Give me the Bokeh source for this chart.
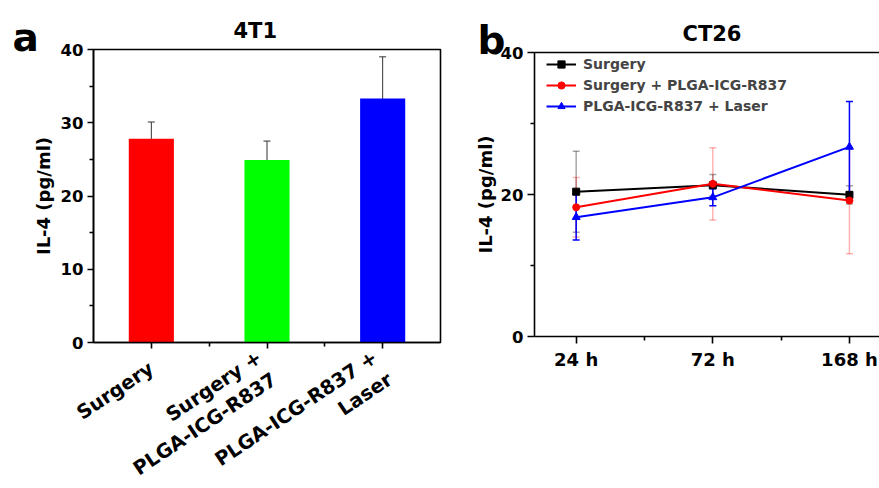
import math
import numpy as np
from bokeh.plotting import figure
from bokeh.layouts import row, column
from bokeh.models import (ColumnDataSource, Range1d, FixedTicker, LinearAxis,
                          Whisker, Label, TeeHead)
from bokeh.embed import file_html
from bokeh.resources import INLINE

FONT = "DejaVu Sans"

# ---------------- data: panel a (4T1) ----------------
a_title = "4T1"
a_groups = ["Surgery", "Surgery +\nPLGA-ICG-R837", "PLGA-ICG-R837 +\nLaser"]
a_values = [27.8, 24.9, 33.3]
a_errors = [2.3, 2.6, 5.7]
a_colors = ["#FF0000", "#00FF00", "#0000FF"]

# ---------------- data: panel b (CT26) ----------------
b_title = "CT26"
b_times = ["24 h", "72 h", "168 h"]
b_series = ["Surgery", "Surgery + PLGA-ICG-R837", "PLGA-ICG-R837 + Laser"]
b_surgery = [20.4, 21.3, 19.95]
b_surgery_err = [5.7, 1.5, 1.3]
b_surgery_plga = [18.2, 21.5, 19.15]
b_surgery_plga_err = [4.2, 5.1, 7.5]
b_plga_laser = [16.8, 19.6, 26.7]
b_plga_laser_err = [3.2, 1.2, 6.4]
b_colors = ["#000000", "#FF0000", "#0000FF"]
b_markers = ["square", "circle", "triangle"]
b_err_alpha = [0.35, 0.3, 1.0]

y_label = "IL-4 (pg/ml)"
a_yticks = [0, 10, 20, 30, 40]
a_yminor = [5, 15, 25, 35]
b_yticks = [0, 20, 40]
b_yminor = [10, 30]
panel_letters = ["a", "b"]


def style_axis(ax, tick_size="16.5px"):
    ax.axis_line_width = 1.6
    ax.axis_line_color = "black"
    ax.major_tick_line_width = 1.6
    ax.minor_tick_line_width = 1.6
    ax.major_tick_in = 0
    ax.minor_tick_in = 0
    ax.major_tick_out = 6
    ax.minor_tick_out = 4
    ax.major_label_text_font = FONT
    ax.major_label_text_font_style = "bold"
    ax.major_label_text_font_size = tick_size
    ax.major_label_text_color = "black"
    ax.axis_label_text_font = FONT
    ax.axis_label_text_font_style = "bold"
    ax.axis_label_text_font_size = "18px"
    ax.axis_label_text_color = "black"


def style_title(t, offset):
    t.text_font = FONT
    t.text_font_style = "bold"
    t.text_font_size = "21px"
    t.text_color = "black"
    t.align = "left"
    t.offset = offset
    t.standoff = 13


# ---------------- panel a ----------------
xa = list(range(1, len(a_groups) + 1))
src_a = ColumnDataSource(dict(
    x=xa, top=a_values, color=a_colors,
    upper=[v + e for v, e in zip(a_values, a_errors)],
    lower=[v - e for v, e in zip(a_values, a_errors)],
))

pa = figure(width=442, height=524, x_range=Range1d(0.5, 3.5), y_range=Range1d(0, 40),
            output_backend="svg", toolbar_location=None,
            min_border_left=93, min_border_right=2, min_border_top=49, min_border_bottom=182)
pa.vbar(x="x", top="top", width=0.39, fill_color="color", line_color=None, source=src_a)
pa.add_layout(Whisker(base="x", upper="upper", lower="lower", source=src_a,
                      line_color="#333333", line_width=1,
                      upper_head=TeeHead(size=7, line_color="#333333", line_width=1),
                      lower_head=TeeHead(size=7, line_color="#333333", line_width=1)))
pa.grid.visible = False
pa.outline_line_color = "black"
pa.outline_line_width = 1.6
pa.title.text = a_title
style_title(pa.title, 140)

overrides_a = {}
for x, g in zip(xa, a_groups):
    overrides_a[x] = g
pa.xaxis.ticker = FixedTicker(ticks=xa, minor_ticks=[1.5, 2.5])
pa.xaxis.major_label_overrides = overrides_a
pa.xaxis.major_label_orientation = 0.59
pa.yaxis.ticker = FixedTicker(ticks=a_yticks, minor_ticks=a_yminor)
pa.yaxis.axis_label = y_label
pa.yaxis.axis_label_standoff = 4
style_axis(pa.xaxis[0], "19.5px")
style_axis(pa.yaxis[0])
pa.xaxis.major_label_text_line_height = 1.15
pa.xaxis.major_label_standoff = 18
pa.yaxis.major_label_standoff = 4
pa.add_layout(Label(x=12, y=37, x_units="canvas", y_units="canvas", text=panel_letters[0],
                    text_font=FONT, text_font_style="bold", text_font_size="39px",
                    text_baseline="alphabetic", text_color="black"), "left")

# ---------------- panel b ----------------
xb = list(range(len(b_times)))
pb = figure(width=437, height=488, x_range=Range1d(-0.305, 2.22), y_range=Range1d(0, 40),
            output_backend="svg", toolbar_location=None,
            min_border_left=92, min_border_right=0, min_border_top=52, min_border_bottom=152)
pb.grid.visible = False
pb.outline_line_color = None
pb.title.text = b_title
style_title(pb.title, 148)

series_vals = [b_surgery, b_surgery_plga, b_plga_laser]
series_errs = [b_surgery_err, b_surgery_plga_err, b_plga_laser_err]
for vals, errs, col, alpha in zip(series_vals, series_errs, b_colors, b_err_alpha):
    s = ColumnDataSource(dict(x=xb, upper=[v + e for v, e in zip(vals, errs)],
                              lower=[v - e for v, e in zip(vals, errs)]))
    pb.add_layout(Whisker(base="x", upper="upper", lower="lower", source=s,
                          line_color=col, line_alpha=alpha, line_width=1.5,
                          upper_head=TeeHead(size=7, line_color=col, line_alpha=alpha, line_width=1.5),
                          lower_head=TeeHead(size=7, line_color=col, line_alpha=alpha, line_width=1.5)))
for name, vals, col, mk in zip(b_series, series_vals, b_colors, b_markers):
    s = ColumnDataSource(dict(x=xb, y=vals))
    pb.line("x", "y", source=s, line_color=col, line_width=2, legend_label=name)
    pb.scatter("x", "y", source=s, marker=mk, size=8 if mk == "triangle" else 7,
               fill_color=col, line_color=col, legend_label=name)

pb.xaxis.ticker = FixedTicker(ticks=xb, minor_ticks=[0.5, 1.5])
pb.xaxis.major_label_overrides = {x: t for x, t in zip(xb, b_times)}
pb.yaxis.ticker = FixedTicker(ticks=b_yticks, minor_ticks=b_yminor)
pb.yaxis.axis_label = y_label
pb.yaxis.axis_label_standoff = 2
style_axis(pb.xaxis[0], "18px")
style_axis(pb.yaxis[0])
pb.xaxis.major_tick_out = 7
pb.yaxis.major_tick_out = 7
pb.xaxis.major_label_standoff = 5
pb.yaxis.major_label_standoff = 4
top_axis = LinearAxis(ticker=FixedTicker(ticks=[]), major_label_text_font_size="0px",
                      axis_line_width=1.6, major_tick_out=0, minor_tick_out=0,
                      major_label_standoff=0, axis_label_standoff=0)
pb.add_layout(top_axis, "above")

leg = pb.legend[0]
leg.location = (12, 221)
leg.border_line_color = None
leg.background_fill_alpha = 0
leg.label_text_font = FONT
leg.label_text_font_style = "bold"
leg.label_text_font_size = "14px"
leg.glyph_width = 30
leg.glyph_height = 18
leg.label_height = 18
leg.spacing = 3
leg.padding = 3
leg.margin = 0
leg.label_standoff = 7

pb.add_layout(Label(x=35, y=40, x_units="canvas", y_units="canvas", text=panel_letters[1],
                    text_font=FONT, text_font_style="bold", text_font_size="39px",
                    text_baseline="alphabetic", text_color="black"), "left")

layout = row(column(pa), column(pb), width=879, height=488, styles={"overflow": "hidden"})
open("out.html", "w").write(file_html(layout, INLINE))
